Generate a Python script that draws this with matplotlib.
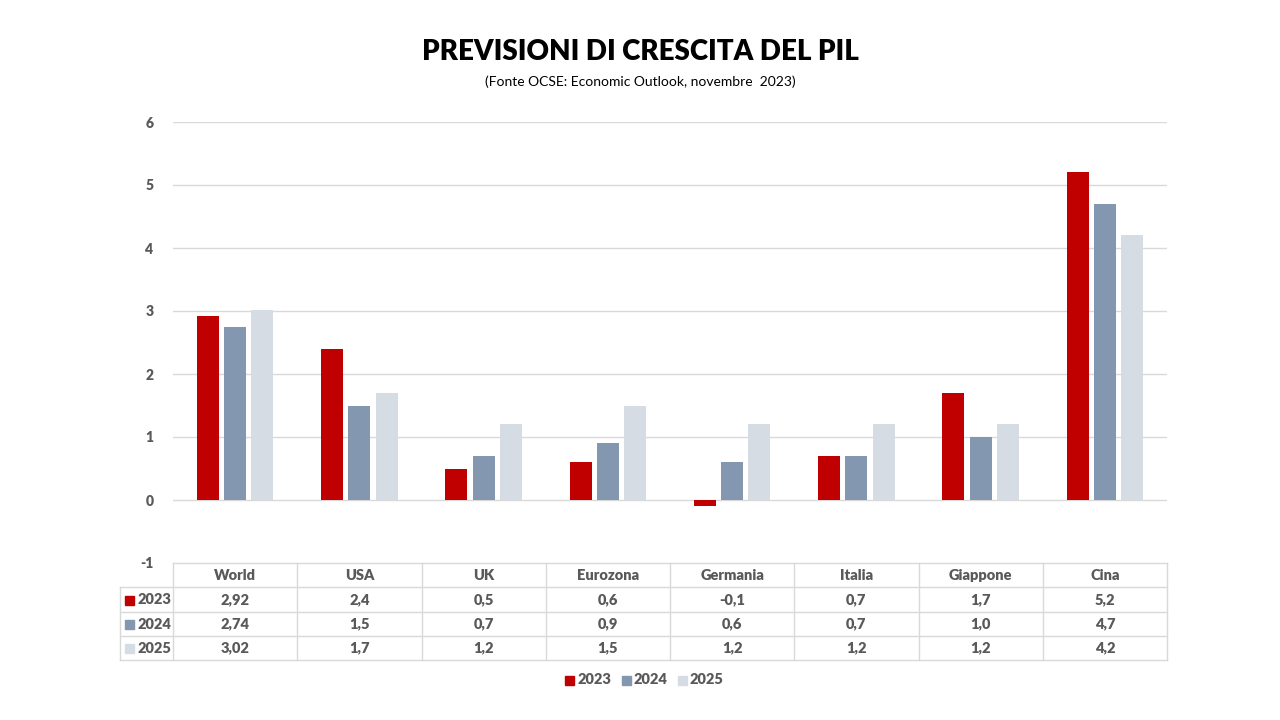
import numpy as np
import matplotlib.pyplot as plt
from matplotlib.patches import Rectangle

plt.rcParams['font.family'] = ['Lato', 'DejaVu Sans']

paesi = ['World', 'USA', 'UK', 'Eurozona', 'Germania', 'Italia', 'Giappone', 'Cina']
anni = ['2023', '2024', '2025']
v2023 = [2.92, 2.4, 0.5, 0.6, -0.1, 0.7, 1.7, 5.2]
v2024 = [2.74, 1.5, 0.7, 0.9, 0.6, 0.7, 1.0, 4.7]
v2025 = [3.02, 1.7, 1.2, 1.5, 1.2, 1.2, 1.2, 4.2]
etichette = [
    ['2,92', '2,4', '0,5', '0,6', '-0,1', '0,7', '1,7', '5,2'],
    ['2,74', '1,5', '0,7', '0,9', '0,6', '0,7', '1,0', '4,7'],
    ['3,02', '1,7', '1,2', '1,5', '1,2', '1,2', '1,2', '4,2'],
]
colori = ['#C00000', '#8497B0', '#D6DCE4']
testo = '#595959'
linee = '#D9D9D9'
peso = 'heavy'

W, H = 1280, 720
fig = plt.figure(figsize=(12.8, 7.2), dpi=100)
ax = fig.add_axes([173 / W, (H - 563) / H, (1167 - 173) / W, (563 - 122) / H])

x = np.arange(len(paesi))
bw = 0.177
step = 0.22
for i, vals in enumerate([v2023, v2024, v2025]):
    ax.bar(x + (i - 1) * step, vals, width=bw, color=colori[i], zorder=3)

ax.set_xlim(-0.5, len(paesi) - 0.5)
ax.set_ylim(-1, 6)
ax.set_yticks(range(-1, 7))
ax.set_yticklabels([str(t) for t in range(-1, 7)], fontsize=10, fontweight=peso, color=testo)
ax.tick_params(axis='y', length=0, pad=14)
ax.set_xticks([])
for s in ax.spines.values():
    s.set_visible(False)
for t in range(0, 7):
    ax.axhline(t, color=linee, lw=1, zorder=1)

# tabella dati sotto il grafico
rh = 24.3 / (563 - 122)
lw = 1
tr = ax.get_xaxis_transform()
xl = -0.5 - 53 / 124.25
ax.plot([-0.5, 7.5], [0, 0], color=linee, lw=lw, transform=tr, clip_on=False)
for r in range(1, 5):
    y = -r * rh
    ax.plot([xl, 7.5], [y, y], color=linee, lw=lw, transform=tr, clip_on=False)
for c in range(len(paesi) + 1):
    ax.plot([c - 0.5, c - 0.5], [0, -4 * rh], color=linee, lw=lw, transform=tr, clip_on=False)
ax.plot([xl, xl], [-rh, -4 * rh], color=linee, lw=lw, transform=tr, clip_on=False)

for c, p in enumerate(paesi):
    ax.text(c, -0.5 * rh, p, ha='center', va='center', fontsize=10.5, fontweight=peso,
            color=testo, transform=tr)
for r in range(3):
    yc = -(r + 1.5) * rh
    for c in range(len(paesi)):
        ax.text(c, yc, etichette[r][c], ha='center', va='center', fontsize=10.5,
                fontweight=peso, color=testo, transform=tr)
    fig.patches.append(Rectangle((125 / W, (H - (588 + r * 24.3 + 16.5)) / H), 9 / W, 9 / H,
                                 color=colori[r], transform=fig.transFigure))
    fig.text(138 / W, (H - (588 + r * 24.3 + 12)) / H, anni[r], ha='left', va='center',
             fontsize=10.5, fontweight=peso, color=testo)

# legenda
lx = [565, 622, 678]
for i in range(3):
    fig.patches.append(Rectangle((lx[i] / W, (H - 685) / H), 9 / W, 9 / H,
                                 color=colori[i], transform=fig.transFigure))
    fig.text((lx[i] + 12) / W, (H - 680) / H, anni[i], ha='left', va='center',
             fontsize=10.5, fontweight=peso, color=testo)

fig.text(640 / W, (H - 52) / H, 'PREVISIONI DI CRESCITA DEL PIL', ha='center', va='center',
         fontsize=20, fontweight=peso, color='black')
fig.text(640 / W, (H - 82) / H, '(Fonte OCSE: Economic Outlook, novembre  2023)', ha='center',
         va='center', fontsize=10, color='black')

fig.savefig('out.png', dpi=100)
